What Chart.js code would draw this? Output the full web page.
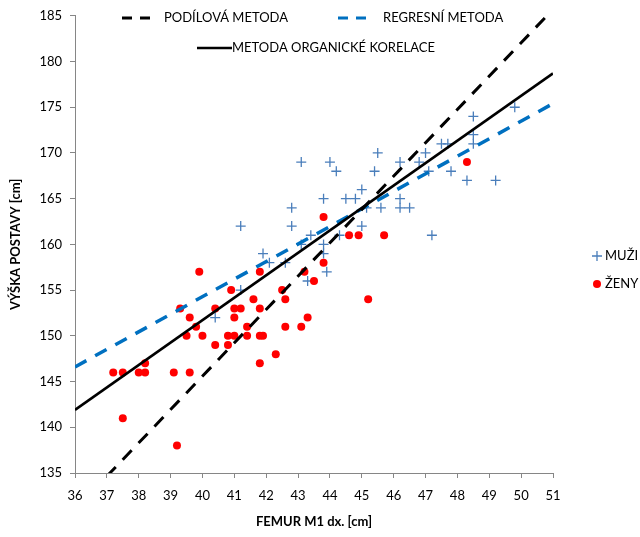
<!DOCTYPE html>
<html>
<head>
<meta charset="utf-8">
<script src="https://cdn.jsdelivr.net/npm/chart.js@4.4.0/dist/chart.umd.min.js"></script>
<style>
  html, body { margin: 0; padding: 0; background: #ffffff; }
</style>
</head>
<body>
<canvas id="myChart" width="640" height="537"></canvas>
<script>

// MUŽI (men) - femur length / body height
const muziX = [41.2, 42.8, 43.1, 44.0, 45.5, 44.2, 45.4, 46.2, 46.8, 45.0,
               43.8, 44.5, 44.8, 46.2, 42.8, 45.15, 45.6, 46.2, 46.5, 45.0,
               44.3, 47.2, 43.4, 43.1, 43.8, 43.8, 41.9, 42.1, 42.6, 43.9,
               43.3, 41.2, 40.4, 49.8, 48.5, 48.5, 48.5, 47.5, 47.7, 47.0,
               47.1, 47.8, 48.3, 49.2];
const muziY = [162, 162, 169, 169, 170, 168, 168, 169, 169, 166,
               165, 165, 165, 165, 164, 164, 164, 164, 164, 162,
               161, 161, 161, 160, 160, 159, 159, 158, 158, 157,
               156, 155, 152, 175, 174, 172, 171, 171, 171, 170,
               168, 168, 167, 167];

// ŽENY (women)
const zenyX = [39.9, 40.9, 39.3, 40.4, 41.0, 41.2, 39.6, 41.0, 39.8, 41.4,
               39.5, 40.0, 40.8, 41.0, 41.4, 40.4, 40.8, 38.2, 37.2, 37.5,
               38.0, 38.2, 39.1, 39.6, 37.5, 39.2, 43.8, 44.6, 44.9, 45.7,
               43.8, 41.8, 43.2, 43.5, 42.5, 41.6, 42.6, 45.2, 41.8, 43.3,
               42.6, 43.1, 41.8, 41.9, 42.3, 41.8, 48.3];
const zenyY = [157, 155, 153, 153, 153, 153, 152, 152, 151, 151,
               150, 150, 150, 150, 150, 149, 149, 147, 146, 146,
               146, 146, 146, 146, 141, 138, 163, 161, 161, 161,
               158, 157, 157, 156, 155, 154, 154, 154, 153, 152,
               151, 151, 150, 150, 148, 147, 169];

// method lines, end points at the x axis limits
const lineX = [36, 51];
const podilovaY = [131.0, 185.7];
const regresniY = [146.6, 175.4];
const korelaceY = [141.9, 178.7];

const legendLabels = ['PODÍLOVÁ METODA', 'REGRESNÍ METODA', 'METODA ORGANICKÉ KORELACE', 'MUŽI', 'ŽENY'];

const FONT = 'Lato, "Open Sans", sans-serif';
const toPoints = (xs, ys) => xs.map((x, i) => ({ x: x, y: ys[i] }));

const ownLegend = {
    id: 'ownLegend',
    afterDraw(chart) {
        const c = chart.ctx;
        c.save();
        c.font = '13px ' + FONT;
        c.fillStyle = '#000';
        c.textBaseline = 'middle';
        c.lineCap = 'butt';

        // row 1
        c.lineWidth = 3;
        c.strokeStyle = '#000';
        c.setLineDash([10, 8]);
        c.beginPath(); c.moveTo(122, 18); c.lineTo(150, 18); c.stroke();
        c.fillText(legendLabels[0], 164, 18);

        c.strokeStyle = '#0070C0';
        c.beginPath(); c.moveTo(338, 18); c.lineTo(370, 18); c.stroke();
        c.fillText(legendLabels[1], 383, 18);

        // row 2
        c.setLineDash([]);
        c.strokeStyle = '#000';
        c.lineWidth = 2.5;
        c.beginPath(); c.moveTo(197, 48); c.lineTo(232, 48); c.stroke();
        c.fillText(legendLabels[2], 232, 48);

        // right legend
        c.strokeStyle = '#4A7EBB';
        c.lineWidth = 1.3;
        c.beginPath();
        c.moveTo(592, 256); c.lineTo(602, 256);
        c.moveTo(597, 251); c.lineTo(597, 261);
        c.stroke();
        c.fillText(legendLabels[3], 605, 256);

        c.fillStyle = '#FF0000';
        c.beginPath(); c.arc(597, 284, 4, 0, Math.PI * 2); c.fill();
        c.fillStyle = '#000';
        c.fillText(legendLabels[4], 605, 284);
        c.restore();
    }
};

const graph01 = document.getElementById('myChart').getContext('2d');

const myChart = new Chart(graph01, {
    type: 'scatter',
    data: {
        datasets: [
            {
                label: legendLabels[0],
                data: toPoints(lineX, podilovaY),
                showLine: true,
                borderColor: '#000000',
                borderWidth: 3,
                borderDash: [13, 10],
                pointRadius: 0,
                clip: 0
            },
            {
                label: legendLabels[2],
                data: toPoints(lineX, korelaceY),
                showLine: true,
                borderColor: '#000000',
                borderWidth: 2.6,
                pointRadius: 0,
                clip: 0
            },
            {
                label: legendLabels[1],
                data: toPoints(lineX, regresniY),
                showLine: true,
                borderColor: '#0070C0',
                borderWidth: 3.5,
                borderDash: [13, 10],
                pointRadius: 0,
                clip: 0
            },
            {
                label: legendLabels[4],
                data: toPoints(zenyX, zenyY),
                pointStyle: 'circle',
                pointRadius: 4,
                backgroundColor: '#FF0000',
                borderColor: '#FF0000',
                borderWidth: 0
            },
            {
                label: legendLabels[3],
                data: toPoints(muziX, muziY),
                pointStyle: 'cross',
                pointRadius: 5,
                borderColor: '#4A7EBB',
                backgroundColor: '#4A7EBB',
                borderWidth: 1.3
            }
        ]
    },
    options: {
        responsive: false,
        animation: false,
        layout: {
            padding: { left: 0, right: 87, top: 14, bottom: 0 }
        },
        plugins: {
            legend: { display: false },
            tooltip: { enabled: false }
        },
        scales: {
            x: {
                type: 'linear',
                min: 36,
                max: 51,
                afterFit: (scale) => { scale.height = 64; },
                ticks: {
                    stepSize: 1,
                    color: '#000',
                    font: { family: FONT, size: 13 },
                    padding: 10,
                    maxRotation: 0
                },
                grid: {
                    drawOnChartArea: false,
                    drawTicks: true,
                    tickLength: 5,
                    color: '#868686'
                },
                border: { display: true, color: '#868686' },
                title: {
                    display: true,
                    text: 'FEMUR M1 dx. [cm]',
                    color: '#000',
                    font: { family: FONT, size: 13, weight: 'bold' },
                    padding: { top: 4, bottom: 7 }
                }
            },
            y: {
                type: 'linear',
                min: 135,
                max: 185,
                afterFit: (scale) => { scale.width = 75; },
                ticks: {
                    stepSize: 5,
                    color: '#000',
                    font: { family: FONT, size: 13 },
                    padding: 8
                },
                grid: {
                    drawOnChartArea: false,
                    drawTicks: true,
                    tickLength: 5,
                    color: '#868686'
                },
                border: { display: true, color: '#868686' },
                title: {
                    display: true,
                    text: 'VÝŠKA POSTAVY [cm]',
                    color: '#000',
                    font: { family: FONT, size: 13, weight: 'bold' },
                    padding: { top: 8, bottom: 4 }
                }
            }
        }
    },
    plugins: [ownLegend]
});

</script>
</body>
</html>
